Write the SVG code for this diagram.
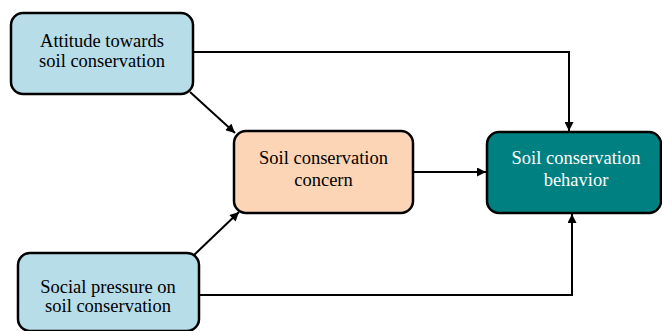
<svg xmlns="http://www.w3.org/2000/svg" width="662" height="331" viewBox="0 0 662 331">
<style>
.box{stroke:#000;stroke-width:2.5}
.blue{fill:#b7dde8}
.peach{fill:#fbd5b5}
.teal{fill:#008080}
text{font-family:'Liberation Serif','Times New Roman',serif;font-size:18.5px;text-anchor:middle}
.w{fill:#fff}
.conn{fill:none;stroke:#000;stroke-width:2}
</style>
<defs>
<marker id="arr" viewBox="0 0 10 10" refX="10" refY="5" markerWidth="10" markerHeight="9" markerUnits="userSpaceOnUse" orient="auto">
<path d="M0,0 L10,5 L0,10 z" fill="#000"/>
</marker>
</defs>
<g id="connectors">
<path class="conn" d="M193,52 H569 V131" marker-end="url(#arr)"/>
<path class="conn" d="M190,92 L235,133" marker-end="url(#arr)"/>
<path class="conn" d="M194,255 L239,212" marker-end="url(#arr)"/>
<path class="conn" d="M199,295 H572 V214" marker-end="url(#arr)"/>
<path class="conn" d="M413,172 H486" marker-end="url(#arr)"/>
</g>
<g id="attitude">
<rect class="box blue" x="11" y="13" width="182" height="81" rx="12"/>
<text x="102" y="47">Attitude towards</text>
<text x="102" y="67">soil conservation</text>
</g>
<g id="concern">
<rect class="box peach" x="234" y="131" width="179" height="82" rx="12"/>
<text x="323.5" y="164">Soil conservation</text>
<text x="323.5" y="186">concern</text>
</g>
<g id="behavior">
<rect class="box teal" x="487" y="132" width="174" height="81" rx="12"/>
<text class="w" x="576" y="164">Soil conservation</text>
<text class="w" x="576" y="186">behavior</text>
</g>
<g id="social">
<rect class="box blue" x="18" y="253" width="181" height="78" rx="12"/>
<text x="108" y="293">Social pressure on</text>
<text x="108" y="312">soil conservation</text>
</g>
</svg>
